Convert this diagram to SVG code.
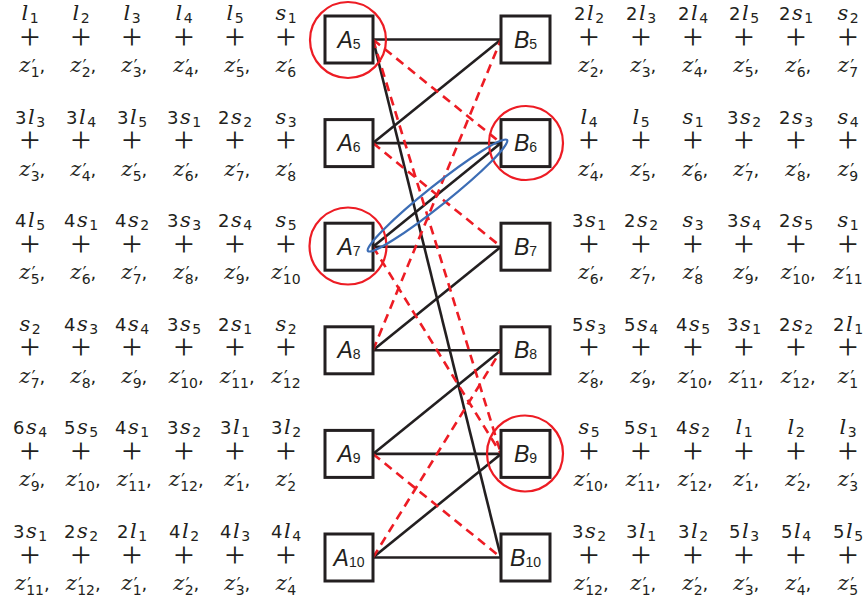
<svg xmlns="http://www.w3.org/2000/svg" width="868" height="602" viewBox="0 0 868 602">
<style>
.t{font-family:"DejaVu Sans",sans-serif;font-size:18px;fill:#231f20;text-anchor:middle;letter-spacing:1.5px}
.v{font-family:"DejaVu Serif",serif;font-style:italic;font-size:21px}
.b{font-family:"DejaVu Sans",sans-serif;font-size:14px;font-style:normal;letter-spacing:0}
.p{font-family:"DejaVu Sans",sans-serif;font-size:17px;font-style:normal;letter-spacing:0}
.pl{font-family:"Liberation Serif","Times New Roman",serif;font-size:36px;fill:#231f20;text-anchor:middle}
.box{fill:#fff;stroke:#231f20;stroke-width:3}
.lbl{font-family:"Liberation Sans",Arial,sans-serif;font-size:23px;fill:#231f20;text-anchor:middle}
.li{font-style:italic}
.ls{font-size:14px}
.e{stroke:#231f20;stroke-width:2.6;fill:none}
.d{stroke:#ed1c24;stroke-width:2.6;stroke-dasharray:9 6;fill:none}
.c{stroke:#ed1c24;stroke-width:2.2;fill:none}
.bl{stroke:#3c6db5;stroke-width:2.3;fill:none}
</style>

<g id="connectors">
<line class="e" x1="373" y1="39.5" x2="501" y2="39.5"/>
<line class="e" x1="373" y1="39.5" x2="501" y2="557.5"/>
<line class="e" x1="373" y1="143.1" x2="501" y2="39.5"/>
<line class="e" x1="373" y1="143.1" x2="501" y2="143.1"/>
<line class="e" x1="373" y1="246.7" x2="501" y2="143.1"/>
<line class="e" x1="373" y1="246.7" x2="501" y2="246.7"/>
<line class="e" x1="373" y1="350.3" x2="501" y2="246.7"/>
<line class="e" x1="373" y1="350.3" x2="501" y2="350.3"/>
<line class="e" x1="373" y1="453.9" x2="501" y2="350.3"/>
<line class="e" x1="373" y1="453.9" x2="501" y2="453.9"/>
<line class="e" x1="373" y1="557.5" x2="501" y2="453.9"/>
<line class="e" x1="373" y1="557.5" x2="501" y2="557.5"/>
<line class="d" x1="373" y1="39.5" x2="501" y2="143.1"/>
<line class="d" x1="373" y1="39.5" x2="501" y2="453.9"/>
<line class="d" x1="373" y1="143.1" x2="501" y2="246.7"/>
<line class="d" x1="373" y1="350.3" x2="501" y2="39.5"/>
<line class="d" x1="373" y1="246.7" x2="501" y2="453.9"/>
<line class="d" x1="373" y1="557.5" x2="501" y2="350.3"/>
<line class="d" x1="373" y1="453.9" x2="501" y2="557.5"/>
</g>

<g id="A5"><rect class="box" x="325" y="16" width="48" height="47"/><text class="lbl" x="349" y="47.5"><tspan class="li">A</tspan><tspan class="ls" dy="1">5</tspan></text></g>
<g id="A6"><rect class="box" x="325" y="119.6" width="48" height="47"/><text class="lbl" x="349" y="151.1"><tspan class="li">A</tspan><tspan class="ls" dy="1">6</tspan></text></g>
<g id="A7"><rect class="box" x="325" y="223.2" width="48" height="47"/><text class="lbl" x="349" y="254.7"><tspan class="li">A</tspan><tspan class="ls" dy="1">7</tspan></text></g>
<g id="A8"><rect class="box" x="325" y="326.8" width="48" height="47"/><text class="lbl" x="349" y="358.3"><tspan class="li">A</tspan><tspan class="ls" dy="1">8</tspan></text></g>
<g id="A9"><rect class="box" x="325" y="430.4" width="48" height="47"/><text class="lbl" x="349" y="461.9"><tspan class="li">A</tspan><tspan class="ls" dy="1">9</tspan></text></g>
<g id="A10"><rect class="box" x="325" y="534" width="48" height="47"/><text class="lbl" x="349" y="565.5"><tspan class="li">A</tspan><tspan class="ls" dy="1">10</tspan></text></g>
<g id="B5"><rect class="box" x="501" y="16" width="49" height="47"/><text class="lbl" x="525.5" y="47.5"><tspan class="li">B</tspan><tspan class="ls" dy="1">5</tspan></text></g>
<g id="B6"><rect class="box" x="501" y="119.6" width="49" height="47"/><text class="lbl" x="525.5" y="151.1"><tspan class="li">B</tspan><tspan class="ls" dy="1">6</tspan></text></g>
<g id="B7"><rect class="box" x="501" y="223.2" width="49" height="47"/><text class="lbl" x="525.5" y="254.7"><tspan class="li">B</tspan><tspan class="ls" dy="1">7</tspan></text></g>
<g id="B8"><rect class="box" x="501" y="326.8" width="49" height="47"/><text class="lbl" x="525.5" y="358.3"><tspan class="li">B</tspan><tspan class="ls" dy="1">8</tspan></text></g>
<g id="B9"><rect class="box" x="501" y="430.4" width="49" height="47"/><text class="lbl" x="525.5" y="461.9"><tspan class="li">B</tspan><tspan class="ls" dy="1">9</tspan></text></g>
<g id="B10"><rect class="box" x="501" y="534" width="49" height="47"/><text class="lbl" x="525.5" y="565.5"><tspan class="li">B</tspan><tspan class="ls" dy="1">10</tspan></text></g>

<g id="highlights">
<circle class="c" cx="348" cy="40" r="38"/>
<circle class="c" cx="348" cy="246" r="38.5"/>
<circle class="c" cx="526" cy="143" r="37"/>
<circle class="c" cx="525" cy="453.5" r="38"/>
<ellipse class="bl" cx="437.5" cy="195.5" rx="89" ry="10" transform="rotate(-38.6 437.5 195.5)"/>
</g>

<g id="left-terms">
<text class="t" x="30" y="20"><tspan class="v">l</tspan><tspan class="b" dy="3">1</tspan></text>
<text class="t" x="81" y="20"><tspan class="v">l</tspan><tspan class="b" dy="3">2</tspan></text>
<text class="t" x="132" y="20"><tspan class="v">l</tspan><tspan class="b" dy="3">3</tspan></text>
<text class="t" x="184" y="20"><tspan class="v">l</tspan><tspan class="b" dy="3">4</tspan></text>
<text class="t" x="235" y="20"><tspan class="v">l</tspan><tspan class="b" dy="3">5</tspan></text>
<text class="t" x="286" y="20"><tspan class="v">s</tspan><tspan class="b" dy="3">1</tspan></text>
<text class="pl" x="30 81 132 184 235 286" y="48.5">++++++</text>
<text class="t" x="33" y="72"><tspan class="v">z</tspan><tspan class="p">′</tspan><tspan class="b" dx="-5" dy="5">1</tspan><tspan dy="-5">,</tspan></text>
<text class="t" x="84" y="72"><tspan class="v">z</tspan><tspan class="p">′</tspan><tspan class="b" dx="-5" dy="5">2</tspan><tspan dy="-5">,</tspan></text>
<text class="t" x="135" y="72"><tspan class="v">z</tspan><tspan class="p">′</tspan><tspan class="b" dx="-5" dy="5">3</tspan><tspan dy="-5">,</tspan></text>
<text class="t" x="187" y="72"><tspan class="v">z</tspan><tspan class="p">′</tspan><tspan class="b" dx="-5" dy="5">4</tspan><tspan dy="-5">,</tspan></text>
<text class="t" x="238" y="72"><tspan class="v">z</tspan><tspan class="p">′</tspan><tspan class="b" dx="-5" dy="5">5</tspan><tspan dy="-5">,</tspan></text>
<text class="t" x="286" y="72"><tspan class="v">z</tspan><tspan class="p">′</tspan><tspan class="b" dx="-5" dy="5">6</tspan></text>

<text class="t" x="30" y="123.6">3<tspan class="v">l</tspan><tspan class="b" dy="3">3</tspan></text>
<text class="t" x="81" y="123.6">3<tspan class="v">l</tspan><tspan class="b" dy="3">4</tspan></text>
<text class="t" x="132" y="123.6">3<tspan class="v">l</tspan><tspan class="b" dy="3">5</tspan></text>
<text class="t" x="184" y="123.6">3<tspan class="v">s</tspan><tspan class="b" dy="3">1</tspan></text>
<text class="t" x="235" y="123.6">2<tspan class="v">s</tspan><tspan class="b" dy="3">2</tspan></text>
<text class="t" x="286" y="123.6"><tspan class="v">s</tspan><tspan class="b" dy="3">3</tspan></text>
<text class="pl" x="30 81 132 184 235 286" y="152.1">++++++</text>
<text class="t" x="33" y="175.6"><tspan class="v">z</tspan><tspan class="p">′</tspan><tspan class="b" dx="-5" dy="5">3</tspan><tspan dy="-5">,</tspan></text>
<text class="t" x="84" y="175.6"><tspan class="v">z</tspan><tspan class="p">′</tspan><tspan class="b" dx="-5" dy="5">4</tspan><tspan dy="-5">,</tspan></text>
<text class="t" x="135" y="175.6"><tspan class="v">z</tspan><tspan class="p">′</tspan><tspan class="b" dx="-5" dy="5">5</tspan><tspan dy="-5">,</tspan></text>
<text class="t" x="187" y="175.6"><tspan class="v">z</tspan><tspan class="p">′</tspan><tspan class="b" dx="-5" dy="5">6</tspan><tspan dy="-5">,</tspan></text>
<text class="t" x="238" y="175.6"><tspan class="v">z</tspan><tspan class="p">′</tspan><tspan class="b" dx="-5" dy="5">7</tspan><tspan dy="-5">,</tspan></text>
<text class="t" x="286" y="175.6"><tspan class="v">z</tspan><tspan class="p">′</tspan><tspan class="b" dx="-5" dy="5">8</tspan></text>

<text class="t" x="30" y="227.2">4<tspan class="v">l</tspan><tspan class="b" dy="3">5</tspan></text>
<text class="t" x="81" y="227.2">4<tspan class="v">s</tspan><tspan class="b" dy="3">1</tspan></text>
<text class="t" x="132" y="227.2">4<tspan class="v">s</tspan><tspan class="b" dy="3">2</tspan></text>
<text class="t" x="184" y="227.2">3<tspan class="v">s</tspan><tspan class="b" dy="3">3</tspan></text>
<text class="t" x="235" y="227.2">2<tspan class="v">s</tspan><tspan class="b" dy="3">4</tspan></text>
<text class="t" x="286" y="227.2"><tspan class="v">s</tspan><tspan class="b" dy="3">5</tspan></text>
<text class="pl" x="30 81 132 184 235 286" y="255.7">++++++</text>
<text class="t" x="33" y="279.2"><tspan class="v">z</tspan><tspan class="p">′</tspan><tspan class="b" dx="-5" dy="5">5</tspan><tspan dy="-5">,</tspan></text>
<text class="t" x="84" y="279.2"><tspan class="v">z</tspan><tspan class="p">′</tspan><tspan class="b" dx="-5" dy="5">6</tspan><tspan dy="-5">,</tspan></text>
<text class="t" x="135" y="279.2"><tspan class="v">z</tspan><tspan class="p">′</tspan><tspan class="b" dx="-5" dy="5">7</tspan><tspan dy="-5">,</tspan></text>
<text class="t" x="187" y="279.2"><tspan class="v">z</tspan><tspan class="p">′</tspan><tspan class="b" dx="-5" dy="5">8</tspan><tspan dy="-5">,</tspan></text>
<text class="t" x="238" y="279.2"><tspan class="v">z</tspan><tspan class="p">′</tspan><tspan class="b" dx="-5" dy="5">9</tspan><tspan dy="-5">,</tspan></text>
<text class="t" x="286" y="279.2"><tspan class="v">z</tspan><tspan class="p">′</tspan><tspan class="b" dx="-5" dy="5">10</tspan></text>

<text class="t" x="30" y="330.8"><tspan class="v">s</tspan><tspan class="b" dy="3">2</tspan></text>
<text class="t" x="81" y="330.8">4<tspan class="v">s</tspan><tspan class="b" dy="3">3</tspan></text>
<text class="t" x="132" y="330.8">4<tspan class="v">s</tspan><tspan class="b" dy="3">4</tspan></text>
<text class="t" x="184" y="330.8">3<tspan class="v">s</tspan><tspan class="b" dy="3">5</tspan></text>
<text class="t" x="235" y="330.8">2<tspan class="v">s</tspan><tspan class="b" dy="3">1</tspan></text>
<text class="t" x="286" y="330.8"><tspan class="v">s</tspan><tspan class="b" dy="3">2</tspan></text>
<text class="pl" x="30 81 132 184 235 286" y="359.3">++++++</text>
<text class="t" x="33" y="382.8"><tspan class="v">z</tspan><tspan class="p">′</tspan><tspan class="b" dx="-5" dy="5">7</tspan><tspan dy="-5">,</tspan></text>
<text class="t" x="84" y="382.8"><tspan class="v">z</tspan><tspan class="p">′</tspan><tspan class="b" dx="-5" dy="5">8</tspan><tspan dy="-5">,</tspan></text>
<text class="t" x="135" y="382.8"><tspan class="v">z</tspan><tspan class="p">′</tspan><tspan class="b" dx="-5" dy="5">9</tspan><tspan dy="-5">,</tspan></text>
<text class="t" x="187" y="382.8"><tspan class="v">z</tspan><tspan class="p">′</tspan><tspan class="b" dx="-5" dy="5">10</tspan><tspan dy="-5">,</tspan></text>
<text class="t" x="238" y="382.8"><tspan class="v">z</tspan><tspan class="p">′</tspan><tspan class="b" dx="-5" dy="5">11</tspan><tspan dy="-5">,</tspan></text>
<text class="t" x="286" y="382.8"><tspan class="v">z</tspan><tspan class="p">′</tspan><tspan class="b" dx="-5" dy="5">12</tspan></text>

<text class="t" x="30" y="434.4">6<tspan class="v">s</tspan><tspan class="b" dy="3">4</tspan></text>
<text class="t" x="81" y="434.4">5<tspan class="v">s</tspan><tspan class="b" dy="3">5</tspan></text>
<text class="t" x="132" y="434.4">4<tspan class="v">s</tspan><tspan class="b" dy="3">1</tspan></text>
<text class="t" x="184" y="434.4">3<tspan class="v">s</tspan><tspan class="b" dy="3">2</tspan></text>
<text class="t" x="235" y="434.4">3<tspan class="v">l</tspan><tspan class="b" dy="3">1</tspan></text>
<text class="t" x="286" y="434.4">3<tspan class="v">l</tspan><tspan class="b" dy="3">2</tspan></text>
<text class="pl" x="30 81 132 184 235 286" y="462.9">++++++</text>
<text class="t" x="33" y="486.4"><tspan class="v">z</tspan><tspan class="p">′</tspan><tspan class="b" dx="-5" dy="5">9</tspan><tspan dy="-5">,</tspan></text>
<text class="t" x="84" y="486.4"><tspan class="v">z</tspan><tspan class="p">′</tspan><tspan class="b" dx="-5" dy="5">10</tspan><tspan dy="-5">,</tspan></text>
<text class="t" x="135" y="486.4"><tspan class="v">z</tspan><tspan class="p">′</tspan><tspan class="b" dx="-5" dy="5">11</tspan><tspan dy="-5">,</tspan></text>
<text class="t" x="187" y="486.4"><tspan class="v">z</tspan><tspan class="p">′</tspan><tspan class="b" dx="-5" dy="5">12</tspan><tspan dy="-5">,</tspan></text>
<text class="t" x="238" y="486.4"><tspan class="v">z</tspan><tspan class="p">′</tspan><tspan class="b" dx="-5" dy="5">1</tspan><tspan dy="-5">,</tspan></text>
<text class="t" x="286" y="486.4"><tspan class="v">z</tspan><tspan class="p">′</tspan><tspan class="b" dx="-5" dy="5">2</tspan></text>

<text class="t" x="30" y="538">3<tspan class="v">s</tspan><tspan class="b" dy="3">1</tspan></text>
<text class="t" x="81" y="538">2<tspan class="v">s</tspan><tspan class="b" dy="3">2</tspan></text>
<text class="t" x="132" y="538">2<tspan class="v">l</tspan><tspan class="b" dy="3">1</tspan></text>
<text class="t" x="184" y="538">4<tspan class="v">l</tspan><tspan class="b" dy="3">2</tspan></text>
<text class="t" x="235" y="538">4<tspan class="v">l</tspan><tspan class="b" dy="3">3</tspan></text>
<text class="t" x="286" y="538">4<tspan class="v">l</tspan><tspan class="b" dy="3">4</tspan></text>
<text class="pl" x="30 81 132 184 235 286" y="566.5">++++++</text>
<text class="t" x="33" y="590"><tspan class="v">z</tspan><tspan class="p">′</tspan><tspan class="b" dx="-5" dy="5">11</tspan><tspan dy="-5">,</tspan></text>
<text class="t" x="84" y="590"><tspan class="v">z</tspan><tspan class="p">′</tspan><tspan class="b" dx="-5" dy="5">12</tspan><tspan dy="-5">,</tspan></text>
<text class="t" x="135" y="590"><tspan class="v">z</tspan><tspan class="p">′</tspan><tspan class="b" dx="-5" dy="5">1</tspan><tspan dy="-5">,</tspan></text>
<text class="t" x="187" y="590"><tspan class="v">z</tspan><tspan class="p">′</tspan><tspan class="b" dx="-5" dy="5">2</tspan><tspan dy="-5">,</tspan></text>
<text class="t" x="238" y="590"><tspan class="v">z</tspan><tspan class="p">′</tspan><tspan class="b" dx="-5" dy="5">3</tspan><tspan dy="-5">,</tspan></text>
<text class="t" x="286" y="590"><tspan class="v">z</tspan><tspan class="p">′</tspan><tspan class="b" dx="-5" dy="5">4</tspan></text>
</g>

<g id="right-terms">
<text class="t" x="589" y="20">2<tspan class="v">l</tspan><tspan class="b" dy="3">2</tspan></text>
<text class="t" x="641" y="20">2<tspan class="v">l</tspan><tspan class="b" dy="3">3</tspan></text>
<text class="t" x="693" y="20">2<tspan class="v">l</tspan><tspan class="b" dy="3">4</tspan></text>
<text class="t" x="744" y="20">2<tspan class="v">l</tspan><tspan class="b" dy="3">5</tspan></text>
<text class="t" x="796" y="20">2<tspan class="v">s</tspan><tspan class="b" dy="3">1</tspan></text>
<text class="t" x="848" y="20"><tspan class="v">s</tspan><tspan class="b" dy="3">2</tspan></text>
<text class="pl" x="589 641 693 744 796 848" y="48.5">++++++</text>
<text class="t" x="592" y="72"><tspan class="v">z</tspan><tspan class="p">′</tspan><tspan class="b" dx="-5" dy="5">2</tspan><tspan dy="-5">,</tspan></text>
<text class="t" x="644" y="72"><tspan class="v">z</tspan><tspan class="p">′</tspan><tspan class="b" dx="-5" dy="5">3</tspan><tspan dy="-5">,</tspan></text>
<text class="t" x="696" y="72"><tspan class="v">z</tspan><tspan class="p">′</tspan><tspan class="b" dx="-5" dy="5">4</tspan><tspan dy="-5">,</tspan></text>
<text class="t" x="747" y="72"><tspan class="v">z</tspan><tspan class="p">′</tspan><tspan class="b" dx="-5" dy="5">5</tspan><tspan dy="-5">,</tspan></text>
<text class="t" x="799" y="72"><tspan class="v">z</tspan><tspan class="p">′</tspan><tspan class="b" dx="-5" dy="5">6</tspan><tspan dy="-5">,</tspan></text>
<text class="t" x="848" y="72"><tspan class="v">z</tspan><tspan class="p">′</tspan><tspan class="b" dx="-5" dy="5">7</tspan></text>

<text class="t" x="589" y="123.6"><tspan class="v">l</tspan><tspan class="b" dy="3">4</tspan></text>
<text class="t" x="641" y="123.6"><tspan class="v">l</tspan><tspan class="b" dy="3">5</tspan></text>
<text class="t" x="693" y="123.6"><tspan class="v">s</tspan><tspan class="b" dy="3">1</tspan></text>
<text class="t" x="744" y="123.6">3<tspan class="v">s</tspan><tspan class="b" dy="3">2</tspan></text>
<text class="t" x="796" y="123.6">2<tspan class="v">s</tspan><tspan class="b" dy="3">3</tspan></text>
<text class="t" x="848" y="123.6"><tspan class="v">s</tspan><tspan class="b" dy="3">4</tspan></text>
<text class="pl" x="589 641 693 744 796 848" y="152.1">++++++</text>
<text class="t" x="592" y="175.6"><tspan class="v">z</tspan><tspan class="p">′</tspan><tspan class="b" dx="-5" dy="5">4</tspan><tspan dy="-5">,</tspan></text>
<text class="t" x="644" y="175.6"><tspan class="v">z</tspan><tspan class="p">′</tspan><tspan class="b" dx="-5" dy="5">5</tspan><tspan dy="-5">,</tspan></text>
<text class="t" x="696" y="175.6"><tspan class="v">z</tspan><tspan class="p">′</tspan><tspan class="b" dx="-5" dy="5">6</tspan><tspan dy="-5">,</tspan></text>
<text class="t" x="747" y="175.6"><tspan class="v">z</tspan><tspan class="p">′</tspan><tspan class="b" dx="-5" dy="5">7</tspan><tspan dy="-5">,</tspan></text>
<text class="t" x="799" y="175.6"><tspan class="v">z</tspan><tspan class="p">′</tspan><tspan class="b" dx="-5" dy="5">8</tspan><tspan dy="-5">,</tspan></text>
<text class="t" x="848" y="175.6"><tspan class="v">z</tspan><tspan class="p">′</tspan><tspan class="b" dx="-5" dy="5">9</tspan></text>

<text class="t" x="589" y="227.2">3<tspan class="v">s</tspan><tspan class="b" dy="3">1</tspan></text>
<text class="t" x="641" y="227.2">2<tspan class="v">s</tspan><tspan class="b" dy="3">2</tspan></text>
<text class="t" x="693" y="227.2"><tspan class="v">s</tspan><tspan class="b" dy="3">3</tspan></text>
<text class="t" x="744" y="227.2">3<tspan class="v">s</tspan><tspan class="b" dy="3">4</tspan></text>
<text class="t" x="796" y="227.2">2<tspan class="v">s</tspan><tspan class="b" dy="3">5</tspan></text>
<text class="t" x="848" y="227.2"><tspan class="v">s</tspan><tspan class="b" dy="3">1</tspan></text>
<text class="pl" x="589 641 693 744 796 848" y="255.7">++++++</text>
<text class="t" x="592" y="279.2"><tspan class="v">z</tspan><tspan class="p">′</tspan><tspan class="b" dx="-5" dy="5">6</tspan><tspan dy="-5">,</tspan></text>
<text class="t" x="644" y="279.2"><tspan class="v">z</tspan><tspan class="p">′</tspan><tspan class="b" dx="-5" dy="5">7</tspan><tspan dy="-5">,</tspan></text>
<text class="t" x="693" y="279.2"><tspan class="v">z</tspan><tspan class="p">′</tspan><tspan class="b" dx="-5" dy="5">8</tspan></text>
<text class="t" x="747" y="279.2"><tspan class="v">z</tspan><tspan class="p">′</tspan><tspan class="b" dx="-5" dy="5">9</tspan><tspan dy="-5">,</tspan></text>
<text class="t" x="799" y="279.2"><tspan class="v">z</tspan><tspan class="p">′</tspan><tspan class="b" dx="-5" dy="5">10</tspan><tspan dy="-5">,</tspan></text>
<text class="t" x="848" y="279.2"><tspan class="v">z</tspan><tspan class="p">′</tspan><tspan class="b" dx="-5" dy="5">11</tspan></text>

<text class="t" x="589" y="330.8">5<tspan class="v">s</tspan><tspan class="b" dy="3">3</tspan></text>
<text class="t" x="641" y="330.8">5<tspan class="v">s</tspan><tspan class="b" dy="3">4</tspan></text>
<text class="t" x="693" y="330.8">4<tspan class="v">s</tspan><tspan class="b" dy="3">5</tspan></text>
<text class="t" x="744" y="330.8">3<tspan class="v">s</tspan><tspan class="b" dy="3">1</tspan></text>
<text class="t" x="796" y="330.8">2<tspan class="v">s</tspan><tspan class="b" dy="3">2</tspan></text>
<text class="t" x="848" y="330.8">2<tspan class="v">l</tspan><tspan class="b" dy="3">1</tspan></text>
<text class="pl" x="589 641 693 744 796 848" y="359.3">++++++</text>
<text class="t" x="592" y="382.8"><tspan class="v">z</tspan><tspan class="p">′</tspan><tspan class="b" dx="-5" dy="5">8</tspan><tspan dy="-5">,</tspan></text>
<text class="t" x="644" y="382.8"><tspan class="v">z</tspan><tspan class="p">′</tspan><tspan class="b" dx="-5" dy="5">9</tspan><tspan dy="-5">,</tspan></text>
<text class="t" x="696" y="382.8"><tspan class="v">z</tspan><tspan class="p">′</tspan><tspan class="b" dx="-5" dy="5">10</tspan><tspan dy="-5">,</tspan></text>
<text class="t" x="747" y="382.8"><tspan class="v">z</tspan><tspan class="p">′</tspan><tspan class="b" dx="-5" dy="5">11</tspan><tspan dy="-5">,</tspan></text>
<text class="t" x="799" y="382.8"><tspan class="v">z</tspan><tspan class="p">′</tspan><tspan class="b" dx="-5" dy="5">12</tspan><tspan dy="-5">,</tspan></text>
<text class="t" x="848" y="382.8"><tspan class="v">z</tspan><tspan class="p">′</tspan><tspan class="b" dx="-5" dy="5">1</tspan></text>

<text class="t" x="589" y="434.4"><tspan class="v">s</tspan><tspan class="b" dy="3">5</tspan></text>
<text class="t" x="641" y="434.4">5<tspan class="v">s</tspan><tspan class="b" dy="3">1</tspan></text>
<text class="t" x="693" y="434.4">4<tspan class="v">s</tspan><tspan class="b" dy="3">2</tspan></text>
<text class="t" x="744" y="434.4"><tspan class="v">l</tspan><tspan class="b" dy="3">1</tspan></text>
<text class="t" x="796" y="434.4"><tspan class="v">l</tspan><tspan class="b" dy="3">2</tspan></text>
<text class="t" x="848" y="434.4"><tspan class="v">l</tspan><tspan class="b" dy="3">3</tspan></text>
<text class="pl" x="589 641 693 744 796 848" y="462.9">++++++</text>
<text class="t" x="592" y="486.4"><tspan class="v">z</tspan><tspan class="p">′</tspan><tspan class="b" dx="-5" dy="5">10</tspan><tspan dy="-5">,</tspan></text>
<text class="t" x="644" y="486.4"><tspan class="v">z</tspan><tspan class="p">′</tspan><tspan class="b" dx="-5" dy="5">11</tspan><tspan dy="-5">,</tspan></text>
<text class="t" x="696" y="486.4"><tspan class="v">z</tspan><tspan class="p">′</tspan><tspan class="b" dx="-5" dy="5">12</tspan><tspan dy="-5">,</tspan></text>
<text class="t" x="747" y="486.4"><tspan class="v">z</tspan><tspan class="p">′</tspan><tspan class="b" dx="-5" dy="5">1</tspan><tspan dy="-5">,</tspan></text>
<text class="t" x="799" y="486.4"><tspan class="v">z</tspan><tspan class="p">′</tspan><tspan class="b" dx="-5" dy="5">2</tspan><tspan dy="-5">,</tspan></text>
<text class="t" x="848" y="486.4"><tspan class="v">z</tspan><tspan class="p">′</tspan><tspan class="b" dx="-5" dy="5">3</tspan></text>

<text class="t" x="589" y="538">3<tspan class="v">s</tspan><tspan class="b" dy="3">2</tspan></text>
<text class="t" x="641" y="538">3<tspan class="v">l</tspan><tspan class="b" dy="3">1</tspan></text>
<text class="t" x="693" y="538">3<tspan class="v">l</tspan><tspan class="b" dy="3">2</tspan></text>
<text class="t" x="744" y="538">5<tspan class="v">l</tspan><tspan class="b" dy="3">3</tspan></text>
<text class="t" x="796" y="538">5<tspan class="v">l</tspan><tspan class="b" dy="3">4</tspan></text>
<text class="t" x="848" y="538">5<tspan class="v">l</tspan><tspan class="b" dy="3">5</tspan></text>
<text class="pl" x="589 641 693 744 796 848" y="566.5">++++++</text>
<text class="t" x="592" y="590"><tspan class="v">z</tspan><tspan class="p">′</tspan><tspan class="b" dx="-5" dy="5">12</tspan><tspan dy="-5">,</tspan></text>
<text class="t" x="644" y="590"><tspan class="v">z</tspan><tspan class="p">′</tspan><tspan class="b" dx="-5" dy="5">1</tspan><tspan dy="-5">,</tspan></text>
<text class="t" x="696" y="590"><tspan class="v">z</tspan><tspan class="p">′</tspan><tspan class="b" dx="-5" dy="5">2</tspan><tspan dy="-5">,</tspan></text>
<text class="t" x="747" y="590"><tspan class="v">z</tspan><tspan class="p">′</tspan><tspan class="b" dx="-5" dy="5">3</tspan><tspan dy="-5">,</tspan></text>
<text class="t" x="799" y="590"><tspan class="v">z</tspan><tspan class="p">′</tspan><tspan class="b" dx="-5" dy="5">4</tspan><tspan dy="-5">,</tspan></text>
<text class="t" x="848" y="590"><tspan class="v">z</tspan><tspan class="p">′</tspan><tspan class="b" dx="-5" dy="5">5</tspan></text>
</g>
</svg>
